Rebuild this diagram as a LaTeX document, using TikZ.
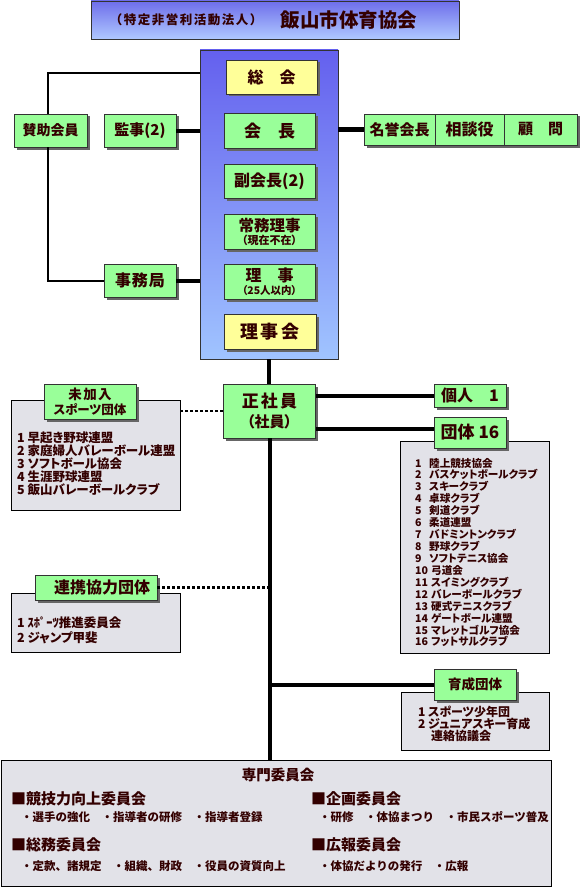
\documentclass[tikz,border=0pt]{standalone}
\usepackage{fontspec}
\setmainfont{Noto Sans CJK JP}
\newfontfamily\jpp{Noto Sans CJK JP}[RawFeature=+palt]
\usetikzlibrary{shadows}
\definecolor{gfill}{RGB}{153,255,153}
\definecolor{yfill}{RGB}{255,255,153}
\definecolor{grayfill}{RGB}{226,226,232}
\definecolor{txt}{RGB}{51,0,0}
\definecolor{colT}{RGB}{100,96,238}
\definecolor{colB}{RGB}{160,196,255}
\definecolor{titT}{RGB}{110,110,235}
\definecolor{titB}{RGB}{175,200,255}
\newcommand\myfs[1]{\fontsize{#1}{#1}\selectfont}
\tikzset{
  box/.style={draw=black!80, line width=0.8pt, inner sep=0pt, align=center, text=txt,
    drop shadow={shadow xshift=2.5pt, shadow yshift=-2.5pt, fill=black!60, opacity=1}},
  gbox/.style={box, fill=gfill},
  ybox/.style={box, fill=yfill},
  graybox/.style={draw=black, line width=0.8pt, fill=grayfill, inner sep=0pt},
  thickline/.style={line width=4pt, black},
  thinline/.style={line width=2pt, black},
  dotline/.style={line width=2.5pt, black, dash pattern=on 3pt off 2pt},
  lbl/.style={text=txt, inner sep=0pt, align=left}
}
\begin{document}
\begin{tikzpicture}[x=1pt,y=-1pt]
\useasboundingbox[fill=white] (0,0) rectangle (580,888);

% title
\node[draw=black!80, line width=0.8pt, top color=titT, bottom color=titB, minimum width=368pt, minimum height=38pt] (title) at (275,20) {};
\node[lbl, font=\bfseries\myfs{12.5}\addfontfeature{LetterSpace=12}] (tsub) at (186,20) {（特定非営利活動法人）};
\node[lbl, font=\bfseries\myfs{19.5}] (tmain) at (349,20) {飯山市体育協会};

% column
\node[draw=black!80, line width=0.7pt, top color=colT, bottom color=colB, minimum width=138pt, minimum height=309pt] (col) at (269,204.5) {};

% connectors
\coordinate (topjoin) at (200,73);
\draw[thinline] (topjoin) -| (48,114);
\node[gbox, minimum width=73pt, minimum height=33pt, font=\bfseries\myfs{14}] (sanjo) at (50.5,130.5) {賛助会員};
\node[gbox, minimum width=72pt, minimum height=33pt, font=\bfseries\myfs{15}] (kanji) at (140,130.5) {監事(2)};
\node[gbox, minimum width=72pt, minimum height=33pt, font=\bfseries\myfs{16}\addfontfeature{LetterSpace=5}] (jimu) at (140,280.5) {事務局};
\draw[thinline] (sanjo.south -| 48,0) |- (jimu.west);
\draw[thickline] (kanji.east) -- (kanji.east -| col.west);
\draw[thickline] (jimu.east) -- (jimu.east -| col.west);

% column boxes
\node[ybox, minimum width=91pt, minimum height=34pt, font=\bfseries\myfs{16}] (soukai) at (271.5,77) {総　会};
\node[gbox, minimum width=91pt, minimum height=35pt, font=\bfseries\myfs{17}] (kaichou) at (269.5,131) {会　長};
\node[gbox, minimum width=91pt, minimum height=34pt, font=\bfseries\myfs{16}] (fuku) at (269.5,181) {副会長(2)};
\node[gbox, minimum width=91pt, minimum height=35pt] (joumu) at (269.5,231.5) {{\bfseries\myfs{15.5}常務理事}\\[1pt]{\bfseries\jpp\myfs{11}（現在不在）}};
\node[gbox, minimum width=91pt, minimum height=35pt] (riji) at (269.5,281.5) {{\bfseries\myfs{16}理　事}\\[1pt]{\bfseries\jpp\myfs{10.5}（25人以内）}};
\node[ybox, minimum width=92pt, minimum height=35pt, font=\bfseries\myfs{18}\addfontfeature{LetterSpace=15}] (rijikai) at (270,331.5) {理事会};

% right honorary row
\node[gbox, minimum width=71pt, minimum height=31pt, font=\bfseries\myfs{15}] (meiyo) at (399.5,129.5) {名誉会長};
\node[gbox, minimum width=69pt, minimum height=31pt, font=\bfseries\myfs{16}] (soudan) at (469.5,129.5) {相談役};
\node[gbox, minimum width=73pt, minimum height=31pt, font=\bfseries\myfs{15}] (komon) at (540.5,129.5) {顧　問};
\draw[thickline] (meiyo.west) -- (meiyo.west -| col.east);

% bottom box
\node[graybox, minimum width=550pt, minimum height=126pt] (senmon) at (276,823) {};

% main vertical line
\node[gbox, minimum width=92pt, minimum height=54pt] (sei) at (269.5,411) {{\bfseries\myfs{17}\addfontfeature{LetterSpace=12}正社員}\\[4pt]{\bfseries\jpp\myfs{15}（社員）}};
\draw[thickline] (col.south) -- (col.south |- sei.north);
\draw[thickline] (sei.south) -- (sei.south |- senmon.north);

% individual / groups
\node[gbox, minimum width=72pt, minimum height=23pt, font=\bfseries\myfs{16}] (kojin) at (470,395.5) {個人　1};
\draw[thickline] (kojin.west -| sei.east) -- (kojin.west);
\node[graybox, minimum width=149pt, minimum height=212pt] (dlist) at (474.5,547) {};
\node[gbox, minimum width=72pt, minimum height=31pt, font=\bfseries\myfs{17}] (dantai) at (470,432.5) {団体 16};
\draw[thickline] (sei.east |- 0,429) -- (dantai.west |- 0,429);
\node[lbl, anchor=west, font=\jpp\bfseries\fontsize{10.6}{11.93}\selectfont] (dtext) at (415,552.5) {%
\makebox[14pt][l]{1}陸上競技協会\\
\makebox[14pt][l]{2}バスケットボールクラブ\\
\makebox[14pt][l]{3}スキークラブ\\
\makebox[14pt][l]{4}卓球クラブ\\
\makebox[14pt][l]{5}剣道クラブ\\
\makebox[14pt][l]{6}柔道連盟\\
\makebox[14pt][l]{7}バドミントンクラブ\\
\makebox[14pt][l]{8}野球クラブ\\
\makebox[14pt][l]{9}ソフトテニス協会\\
\makebox[16pt][l]{10}弓道会\\
\makebox[16pt][l]{11}スイミングクラブ\\
\makebox[16pt][l]{12}バレーボールクラブ\\
\makebox[16pt][l]{13}硬式テニスクラブ\\
\makebox[16pt][l]{14}ゲートボール連盟\\
\makebox[16pt][l]{15}マレットゴルフ協会\\
\makebox[16pt][l]{16}フットサルクラブ};

% not joined
\node[graybox, minimum width=169pt, minimum height=110pt] (milist) at (95.5,455) {};
\node[gbox, minimum width=92pt, minimum height=35pt] (mikanyu) at (90,401.5) {{\bfseries\myfs{13.5}\addfontfeature{LetterSpace=10}未加入}\\[2pt]{\bfseries\jpp\myfs{12.5}スポーツ団体}};
\draw[dotline] (sei.west) -- (sei.west -| milist.east);
\node[lbl, anchor=west, font=\jpp\bfseries\fontsize{12.5}{11.9}\selectfont] (mitext) at (17,464) {%
1 早起き野球連盟\\
2 家庭婦人バレーボール連盟\\
3 ソフトボール協会\\
4 生涯野球連盟\\
5 飯山バレーボールクラブ};

% cooperating
\node[graybox, minimum width=169pt, minimum height=59pt] (relist) at (95.5,622.5) {};
\node[gbox, minimum width=122pt, minimum height=25pt, font=\bfseries\myfs{16}] (renkei) at (96,587.5) {\hspace{12pt}連携協力団体};
\draw[dotline] (renkei.east) -- (renkei.east -| sei.south);
\node[lbl, anchor=west, font=\jpp\bfseries\fontsize{12.5}{15}\selectfont] (retext) at (17,630.5) {%
1 ｽﾎﾟｰﾂ推進委員会\\
2 ジャンプ甲斐};

% training
\node[graybox, minimum width=148pt, minimum height=58pt] (iklist) at (475,721) {};
\node[gbox, minimum width=82pt, minimum height=31pt, font=\bfseries\myfs{13.5}] (ikusei) at (475,684.5) {育成団体};
\draw[thickline] (ikusei.west) -- (ikusei.west -| sei.south);
\node[lbl, anchor=west, font=\jpp\bfseries\fontsize{12}{11.6}\selectfont] (iktext) at (418,723.5) {%
1 スポーツ少年団\\
2 ジュニアスキー育成\\
\hspace{13pt}連絡協議会};

% bottom committee texts
\node[lbl, font=\bfseries\myfs{14.5}] (sm) at (278,775) {専門委員会};
\node[lbl, anchor=west, font=\bfseries\myfs{15}] (c1) at (11,799) {■競技力向上委員会};
\node[lbl, anchor=west, font=\bfseries\myfs{11.5}] (c1t) at (21,817) {・選手の強化　・指導者の研修　・指導者登録};
\node[lbl, anchor=west, font=\bfseries\myfs{15}] (c2) at (11,845) {■総務委員会};
\node[lbl, anchor=west, font=\bfseries\myfs{11.5}] (c2t) at (21,866) {・定款、諸規定　・組織、財政　・役員の資質向上};
\node[lbl, anchor=west, font=\bfseries\myfs{15}] (c3) at (311,799) {■企画委員会};
\node[lbl, anchor=west, font=\bfseries\myfs{11.5}] (c3t) at (319,817) {・研修　・体協まつり　・市民スポーツ普及};
\node[lbl, anchor=west, font=\bfseries\myfs{15}] (c4) at (311,845) {■広報委員会};
\node[lbl, anchor=west, font=\bfseries\myfs{11.5}] (c4t) at (319,866) {・体協だよりの発行　・広報};
\end{tikzpicture}
\end{document}
